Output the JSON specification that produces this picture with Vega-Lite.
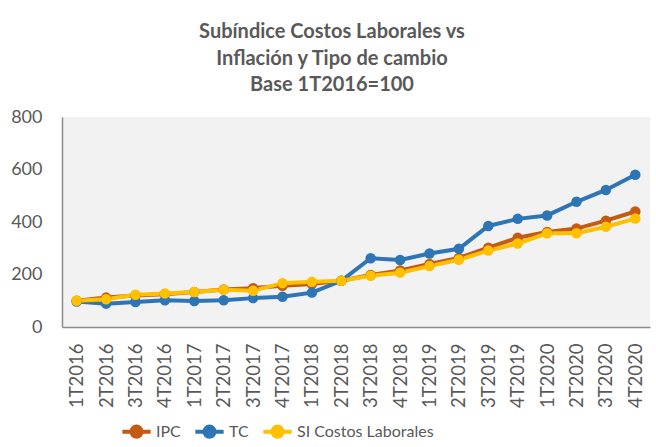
{
  "$schema": "https://vega.github.io/schema/vega-lite/v6.json",
  "width": 588,
  "height": 210,
  "autosize": "none",
  "padding": {"left": 62, "top": 117, "right": 6, "bottom": 120},
  "background": "white",
  "title": {
    "text": ["Subíndice Costos Laborales vs", "Inflación y Tipo de cambio", "Base 1T2016=100"],
    "font": "Lato",
    "fontSize": 20,
    "fontWeight": "bold",
    "color": "#595959",
    "lineHeight": 26.5,
    "anchor": "middle",
    "dx": -24,
    "baseline": "alphabetic",
    "offset": 27,
    "dy": 30
  },
  "config": {
    "view": {"fill": "#f2f2f2", "stroke": null},
    "font": "Lato"
  },
  "data": {
    "values": [
      {"q": "1T2016", "s": "IPC", "v": 100}, {"q": "2T2016", "s": "IPC", "v": 112}, {"q": "3T2016", "s": "IPC", "v": 120}, {"q": "4T2016", "s": "IPC", "v": 125},
      {"q": "1T2017", "s": "IPC", "v": 133}, {"q": "2T2017", "s": "IPC", "v": 143}, {"q": "3T2017", "s": "IPC", "v": 148}, {"q": "4T2017", "s": "IPC", "v": 157},
      {"q": "1T2018", "s": "IPC", "v": 164}, {"q": "2T2018", "s": "IPC", "v": 176}, {"q": "3T2018", "s": "IPC", "v": 198}, {"q": "4T2018", "s": "IPC", "v": 215},
      {"q": "1T2019", "s": "IPC", "v": 240}, {"q": "2T2019", "s": "IPC", "v": 263}, {"q": "3T2019", "s": "IPC", "v": 302}, {"q": "4T2019", "s": "IPC", "v": 340},
      {"q": "1T2020", "s": "IPC", "v": 362}, {"q": "2T2020", "s": "IPC", "v": 375}, {"q": "3T2020", "s": "IPC", "v": 405}, {"q": "4T2020", "s": "IPC", "v": 440},
      {"q": "1T2016", "s": "TC", "v": 97}, {"q": "2T2016", "s": "TC", "v": 89}, {"q": "3T2016", "s": "TC", "v": 95}, {"q": "4T2016", "s": "TC", "v": 102},
      {"q": "1T2017", "s": "TC", "v": 99}, {"q": "2T2017", "s": "TC", "v": 102}, {"q": "3T2017", "s": "TC", "v": 110}, {"q": "4T2017", "s": "TC", "v": 115},
      {"q": "1T2018", "s": "TC", "v": 131}, {"q": "2T2018", "s": "TC", "v": 176}, {"q": "3T2018", "s": "TC", "v": 262}, {"q": "4T2018", "s": "TC", "v": 255},
      {"q": "1T2019", "s": "TC", "v": 280}, {"q": "2T2019", "s": "TC", "v": 298}, {"q": "3T2019", "s": "TC", "v": 385}, {"q": "4T2019", "s": "TC", "v": 412},
      {"q": "1T2020", "s": "TC", "v": 425}, {"q": "2T2020", "s": "TC", "v": 477}, {"q": "3T2020", "s": "TC", "v": 522}, {"q": "4T2020", "s": "TC", "v": 580},
      {"q": "1T2016", "s": "SI Costos Laborales", "v": 100}, {"q": "2T2016", "s": "SI Costos Laborales", "v": 106}, {"q": "3T2016", "s": "SI Costos Laborales", "v": 123}, {"q": "4T2016", "s": "SI Costos Laborales", "v": 128},
      {"q": "1T2017", "s": "SI Costos Laborales", "v": 133}, {"q": "2T2017", "s": "SI Costos Laborales", "v": 142}, {"q": "3T2017", "s": "SI Costos Laborales", "v": 138}, {"q": "4T2017", "s": "SI Costos Laborales", "v": 167},
      {"q": "1T2018", "s": "SI Costos Laborales", "v": 172}, {"q": "2T2018", "s": "SI Costos Laborales", "v": 176}, {"q": "3T2018", "s": "SI Costos Laborales", "v": 195}, {"q": "4T2018", "s": "SI Costos Laborales", "v": 207},
      {"q": "1T2019", "s": "SI Costos Laborales", "v": 232}, {"q": "2T2019", "s": "SI Costos Laborales", "v": 256}, {"q": "3T2019", "s": "SI Costos Laborales", "v": 291}, {"q": "4T2019", "s": "SI Costos Laborales", "v": 318},
      {"q": "1T2020", "s": "SI Costos Laborales", "v": 357}, {"q": "2T2020", "s": "SI Costos Laborales", "v": 357}, {"q": "3T2020", "s": "SI Costos Laborales", "v": 382}, {"q": "4T2020", "s": "SI Costos Laborales", "v": 413}
    ]
  },
  "mark": {"type": "line", "strokeWidth": 4, "point": {"filled": true, "size": 110, "opacity": 1}},
  "encoding": {
    "x": {
      "field": "q",
      "type": "ordinal",
      "sort": null,
      "scale": {"type": "point", "padding": 0.5},
      "axis": {
        "title": null,
        "labelAngle": -90,
        "labelAlign": "right",
        "labelBaseline": "middle",
        "labelFont": "Lato",
        "labelFontSize": 18.5,
        "labelColor": "#595959",
        "labelPadding": 16,
        "ticks": false,
        "domainColor": "#8c8c8c",
        "domainWidth": 1.5,
        "grid": false
      }
    },
    "y": {
      "field": "v",
      "type": "quantitative",
      "scale": {"domain": [0, 800]},
      "axis": {
        "title": null,
        "values": [0, 200, 400, 600, 800],
        "labelFont": "Lato",
        "labelFontSize": 18,
        "labelColor": "#595959",
        "labelPadding": 20,
        "ticks": false,
        "grid": false,
        "domainColor": "#8c8c8c",
        "domainWidth": 1.5
      }
    },
    "color": {
      "field": "s",
      "type": "nominal",
      "sort": ["IPC", "TC", "SI Costos Laborales"],
      "scale": {"domain": ["IPC", "TC", "SI Costos Laborales"], "range": ["#c55a11", "#2e75b6", "#ffc000"]},
      "legend": {
        "title": null,
        "orient": "none",
        "direction": "horizontal",
        "legendX": 58,
        "legendY": 298,
        "labelFont": "Lato",
        "labelFontSize": 16,
        "labelColor": "#595959",
        "symbolType": "M-1,0L1,0M0.36,0A0.36,0.36 0 1,1 -0.36,0A0.36,0.36 0 1,1 0.36,0Z",
        "symbolSize": 800,
        "symbolStrokeWidth": 4,
        "labelOffset": 3,
        "columnPadding": 6,
        "encode": {
          "symbols": {"update": {"fill": {"scale": "color", "field": "value"}, "fillOpacity": {"value": 1}, "stroke": {"scale": "color", "field": "value"}}}
        }
      }
    }
  }
}
